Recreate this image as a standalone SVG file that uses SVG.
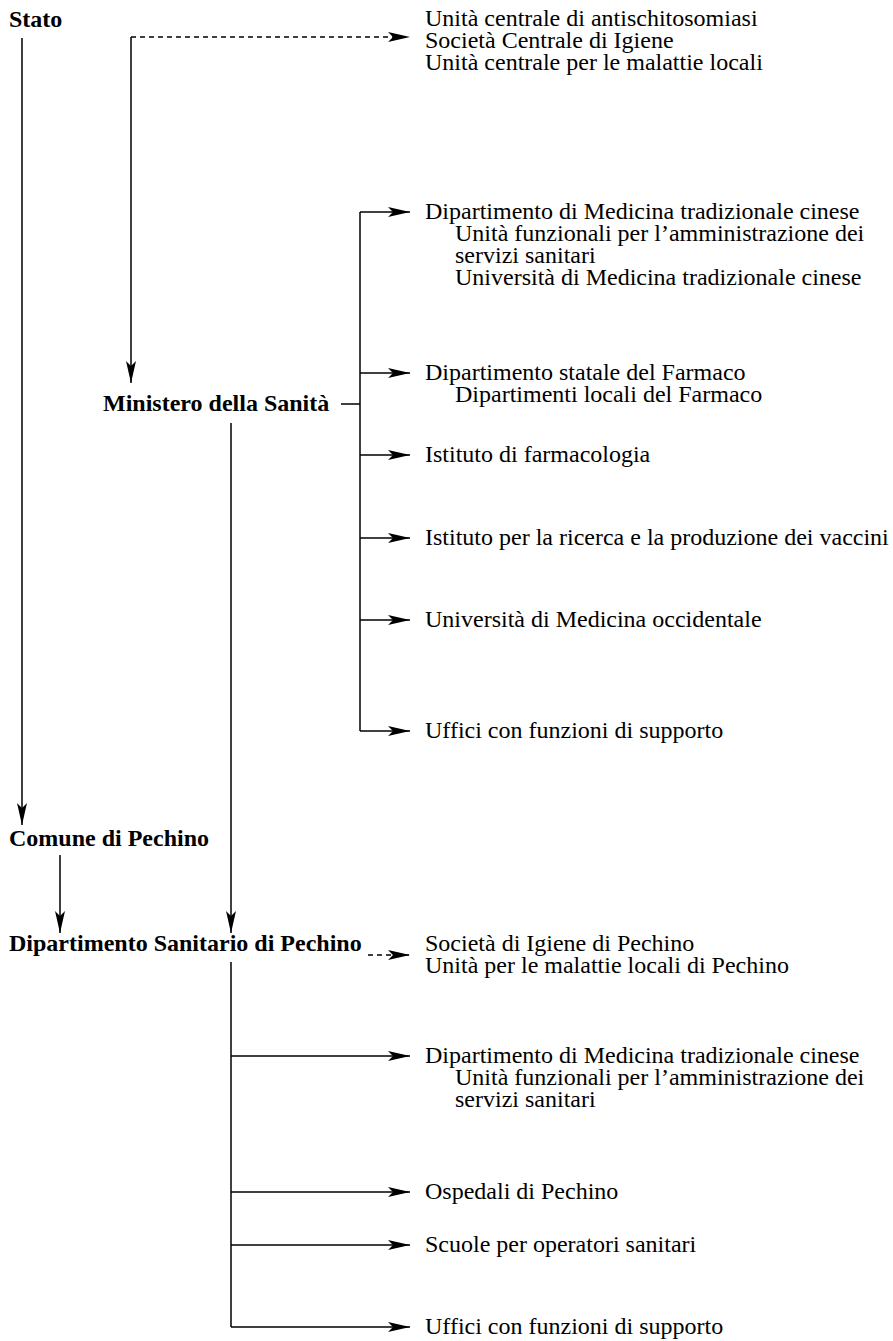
<svg xmlns="http://www.w3.org/2000/svg" width="893" height="1341" viewBox="0 0 893 1341">
<style>
text{font-family:"Liberation Serif","Times New Roman",serif;font-size:24px;fill:#000}
.b{font-weight:bold}
.ln{stroke:#000;stroke-width:1.5;fill:none}
.d{stroke-dasharray:5,4}
</style>
<defs>
<marker id="ah" markerUnits="userSpaceOnUse" markerWidth="24" markerHeight="12" refX="22" refY="5" orient="auto">
<path d="M0,0 L22,5 L0,10 L5,5 z" fill="#000"/>
</marker>
</defs>
<g id="connectors">
<line class="ln" x1="22" y1="38" x2="22" y2="825" marker-end="url(#ah)"/>
<line class="ln" x1="131" y1="37" x2="131" y2="383" marker-end="url(#ah)"/>
<line class="ln d" x1="131" y1="37" x2="410" y2="37" marker-end="url(#ah)"/>
<line class="ln" x1="341" y1="404" x2="360" y2="404"/>
<line class="ln" x1="360" y1="212" x2="360" y2="731"/>
<line class="ln" x1="360" y1="212" x2="410" y2="212" marker-end="url(#ah)"/>
<line class="ln" x1="360" y1="373" x2="410" y2="373" marker-end="url(#ah)"/>
<line class="ln" x1="360" y1="455" x2="410" y2="455" marker-end="url(#ah)"/>
<line class="ln" x1="360" y1="538" x2="410" y2="538" marker-end="url(#ah)"/>
<line class="ln" x1="360" y1="620" x2="410" y2="620" marker-end="url(#ah)"/>
<line class="ln" x1="360" y1="731" x2="410" y2="731" marker-end="url(#ah)"/>
<line class="ln" x1="231" y1="423" x2="231" y2="933" marker-end="url(#ah)"/>
<line class="ln" x1="60" y1="855" x2="60" y2="933" marker-end="url(#ah)"/>
<line class="ln d" x1="368" y1="955" x2="410" y2="955" marker-end="url(#ah)"/>
<line class="ln" x1="231" y1="962" x2="231" y2="1327"/>
<line class="ln" x1="231" y1="1056" x2="410" y2="1056" marker-end="url(#ah)"/>
<line class="ln" x1="231" y1="1192" x2="410" y2="1192" marker-end="url(#ah)"/>
<line class="ln" x1="231" y1="1245" x2="410" y2="1245" marker-end="url(#ah)"/>
<line class="ln" x1="231" y1="1327" x2="410" y2="1327" marker-end="url(#ah)"/>
</g>
<g id="stato"><text class="b" x="9" y="27">Stato</text></g>
<g id="ministero"><text class="b" x="103" y="411">Ministero della Sanità</text></g>
<g id="comune"><text class="b" x="9" y="846">Comune di Pechino</text></g>
<g id="dip-sanitario"><text class="b" x="9" y="951">Dipartimento Sanitario di Pechino</text></g>
<g id="unita-centrali">
<text x="425" y="26">Unità centrale di antischitosomiasi</text>
<text x="425" y="48">Società Centrale di Igiene</text>
<text x="425" y="70">Unità centrale per le malattie locali</text>
</g>
<g id="dip-mtc">
<text x="425" y="219">Dipartimento di Medicina tradizionale cinese</text>
<text x="455" y="241">Unità funzionali per l’amministrazione dei</text>
<text x="455" y="263">servizi sanitari</text>
<text x="455" y="285">Università di Medicina tradizionale cinese</text>
</g>
<g id="dip-farmaco">
<text x="425" y="380">Dipartimento statale del Farmaco</text>
<text x="455" y="402">Dipartimenti locali del Farmaco</text>
</g>
<g id="farmacologia"><text x="425" y="462">Istituto di farmacologia</text></g>
<g id="vaccini"><text x="425" y="545">Istituto per la ricerca e la produzione dei vaccini</text></g>
<g id="univ-occ"><text x="425" y="627">Università di Medicina occidentale</text></g>
<g id="uffici-1"><text x="425" y="738">Uffici con funzioni di supporto</text></g>
<g id="pechino-igiene">
<text x="425" y="951">Società di Igiene di Pechino</text>
<text x="425" y="973">Unità per le malattie locali di Pechino</text>
</g>
<g id="pechino-mtc">
<text x="425" y="1063">Dipartimento di Medicina tradizionale cinese</text>
<text x="455" y="1085">Unità funzionali per l’amministrazione dei</text>
<text x="455" y="1107">servizi sanitari</text>
</g>
<g id="ospedali"><text x="425" y="1199">Ospedali di Pechino</text></g>
<g id="scuole"><text x="425" y="1252">Scuole per operatori sanitari</text></g>
<g id="uffici-2"><text x="425" y="1334">Uffici con funzioni di supporto</text></g>
</svg>
